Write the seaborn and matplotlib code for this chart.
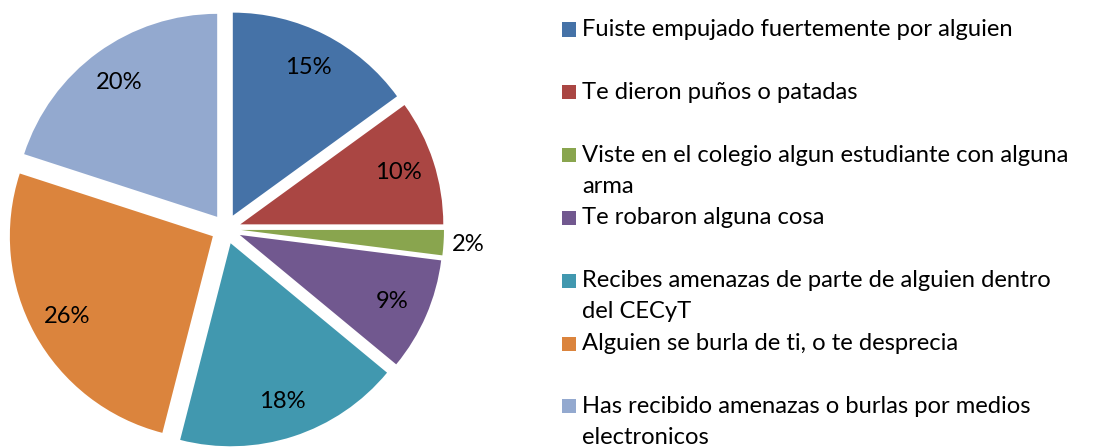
import matplotlib
matplotlib.use("Agg")
import matplotlib.pyplot as plt
import seaborn as sns
import numpy as np
from matplotlib.patches import Rectangle

categories = [
    "Fuiste empujado fuertemente por alguien",
    "Te dieron puños o patadas",
    "Viste en el colegio algun estudiante con alguna\narma",
    "Te robaron alguna cosa",
    "Recibes amenazas de parte de alguien dentro\ndel CECyT",
    "Alguien se burla de ti, o te desprecia",
    "Has recibido amenazas o burlas por medios\nelectronicos",
]
values = [15, 10, 2, 9, 18, 26, 20]
colors_hex = ["#4572A7", "#AA4643", "#89A54E", "#71588F", "#4198AF", "#DB843D", "#93A9CF"]

sns.set_theme(style="white")
plt.rcParams["font.family"] = ["Lato", "DejaVu Sans"]
palette = sns.color_palette(colors_hex)

W, H = 1094, 447
fig = plt.figure(figsize=(W / 100, H / 100), dpi=100)
fig.patch.set_facecolor("white")

cx, cy = 226, H - 229
R = 203
half = 228
ax = fig.add_axes([(cx - half) / W, (cy - half) / H, 2 * half / W, 2 * half / H])

fs = 17.1
wedges, texts, autotexts = ax.pie(
    values, colors=palette, startangle=90, counterclock=False,
    explode=[15 / R] * len(values), autopct="%1.0f%%", pctdistance=0.82,
    wedgeprops=dict(linewidth=0), textprops=dict(fontsize=fs, color="black"))
ax.set_xlim(-half / R, half / R)
ax.set_ylim(-half / R, half / R)
ax.set_aspect("auto")

# move small-slice label outside
for w, t, v in zip(wedges, autotexts, values):
    if v < 5:
        th = np.deg2rad((w.theta1 + w.theta2) / 2)
        c = w.center
        t.set_position((c[0] + 1.12 * np.cos(th), c[1] + 1.12 * np.sin(th)))
        t.set_ha("center")

# legend (Excel-style, fixed spacing)
x_mark, msize = 562, 14
x_text = 582
y0, dy, line_h = 29.5, 62.8, 31
for i, (lab, col) in enumerate(zip(categories, palette)):
    yc = y0 + dy * i
    fig.patches.append(Rectangle(((x_mark) / W, (H - yc - msize / 2) / H), msize / W, msize / H,
                                 transform=fig.transFigure, facecolor=col, edgecolor="none"))
    for j, line in enumerate(lab.split("\n")):
        fig.text(x_text / W, (H - (yc + 6.5 + j * line_h)) / H, line, fontsize=fs,
                 va="baseline", ha="left", color="black")

fig.savefig("out.png", dpi=100, facecolor="white")
